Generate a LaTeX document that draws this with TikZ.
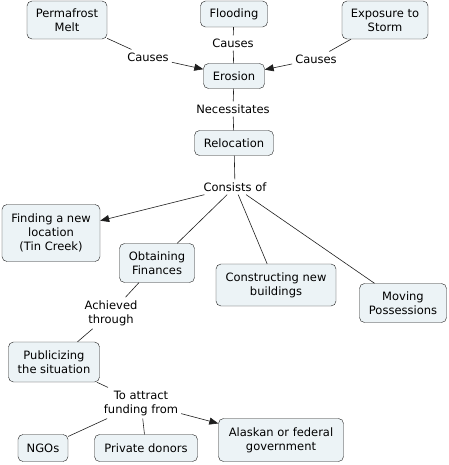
\documentclass[tikz,border=0pt]{standalone}
\usepackage{fontspec}
\setmainfont{DejaVu Sans}
\usepackage{xcolor}
\usetikzlibrary{positioning, arrows.meta}

\definecolor{cbox}{RGB}{236,243,246}
\definecolor{cline}{RGB}{30,30,30}

\begin{document}
\begin{tikzpicture}[
  x=1pt, y=-1pt,
  concept/.style={draw=cline, fill=cbox, rounded corners=5pt, thin, align=center,
    inner xsep=4pt, inner ysep=3pt, font=\fontsize{11.5}{14}\selectfont},
  link/.style={align=center, inner sep=3pt, font=\fontsize{11.5}{14}\selectfont},
  ln/.style={draw=cline, line width=0.6pt},
  arr/.style={ln, -{Triangle[length=9pt, width=7pt]}}
]
  \useasboundingbox (0,0) rectangle (448,465);

  % top row of causes
  \node[concept, minimum width=80pt, minimum height=38pt] (perma) at (67,20)  {Permafrost\\Melt};
  \node[concept, minimum width=67pt, minimum height=26pt] (flood) at (234,14) {Flooding};
  \node[concept, minimum width=86pt, minimum height=38pt] (storm) at (385,20) {Exposure to\\Storm};
  \node[concept, minimum width=61pt, minimum height=25pt] (eros)  at (234,76) {Erosion};
  \node[concept, minimum width=79pt, minimum height=25pt] (reloc) at (234,143) {Relocation};

  % link labels
  \node[link] (c1) at (148,57)  {Causes};
  \node[link] (c2) at (233,43)  {Causes};
  \node[link] (c3) at (316,59)  {Causes};
  \node[link] (nec) at (233,109) {Necessitates};
  \node[link] (cons) at (235,187) {Consists of};

  % parts of the relocation
  \node[concept, minimum width=98pt, minimum height=57pt] (find)  at (51,233)  {Finding a new\\location\\(Tin Creek)};
  \node[concept, minimum width=75pt, minimum height=39pt] (fin)   at (157,263) {Obtaining\\Finances};
  \node[concept, minimum width=120pt, minimum height=42pt] (build) at (276,285) {Constructing new\\buildings};
  \node[concept, minimum width=87pt, minimum height=39pt] (move)  at (403,303) {Moving\\Possessions};

  \node[link] (ach) at (111,313) {Achieved\\through};
  \node[concept, minimum width=91pt, minimum height=40pt] (pub) at (54,362) {Publicizing\\the situation};
  \node[link] (attr) at (141,403) {To attract\\funding from};

  % funding sources
  \node[concept, minimum width=50pt, minimum height=27pt] (ngo)  at (43,448)  {NGOs};
  \node[concept, minimum width=103pt, minimum height=27pt] (priv) at (146,448) {Private donors};
  \node[concept, minimum width=125pt, minimum height=43pt] (gov)  at (281,440) {Alaskan or federal\\government};

  % connectors
  \draw[ln] (perma) -- (c1);
  \draw[arr] (c1) -- (eros);
  \draw[ln] (flood) -- (c2);
  \draw[ln] (c2) -- (eros);
  \draw[ln] (storm) -- (c3);
  \draw[arr] (c3) -- (eros);
  \draw[ln] (eros) -- (nec);
  \draw[ln] (nec) -- (reloc);
  \draw[ln] (reloc) -- (cons);
  \draw[arr] (cons) -- (find);
  \draw[ln] (cons) -- (fin);
  \draw[ln] (cons) -- (build);
  \draw[ln] (cons) -- (move);
  \draw[ln] (fin) -- (ach);
  \draw[ln] (ach) -- (pub);
  \draw[ln] (pub) -- (attr);
  \draw[ln] (attr) -- (ngo);
  \draw[ln] (attr) -- (priv);
  \draw[arr] (attr) -- (gov);
\end{tikzpicture}
\end{document}
